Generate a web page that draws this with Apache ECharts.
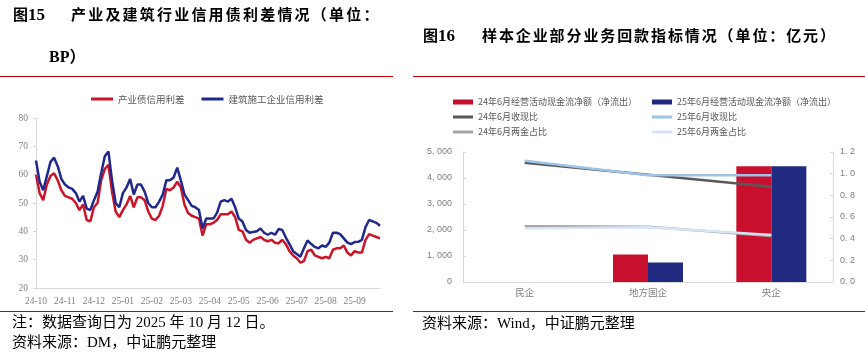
<!DOCTYPE html>
<html><head><meta charset="utf-8">
<script src="https://cdn.jsdelivr.net/npm/echarts@6/dist/echarts.min.js"></script>
<style>
html,body{margin:0;padding:0;background:#fff;width:865px;height:359px;overflow:hidden}
#c{position:absolute;left:0;top:0;width:865px;height:359px}
.t{position:absolute;white-space:nowrap;font-family:"Liberation Serif","Noto Sans CJK SC";color:#000;line-height:20px}
.b{font-weight:bold}
.cjk{font-family:"Noto Sans CJK SC"}
.hr{position:absolute;height:1px;background:#c00000}
</style></head><body>
<div id="c"></div>
<div class="t b" style="left:13px;top:4px;font-size:15px"><span class="cjk">图</span><span style="font-size:17px">15</span></div>
<div class="t b cjk" style="left:71px;top:4px;font-size:15px;letter-spacing:2.2px">产业及建筑行业信用债利差情况（单位：</div>
<div class="t b" style="left:49px;top:45px;font-size:16px">BP<span class="cjk">）</span></div>
<div class="t b" style="left:423px;top:25px;font-size:15px"><span class="cjk">图</span><span style="font-size:17px">16</span></div>
<div class="t b cjk" style="left:482px;top:25px;font-size:15px;letter-spacing:1.9px">样本企业部分业务回款指标情况（单位：亿元）</div>
<div class="hr" style="left:0;top:76px;width:393px"></div>
<div class="hr" style="left:413px;top:76px;width:452px"></div>
<div class="hr" style="left:0;top:311px;width:393px"></div>
<div class="hr" style="left:413px;top:311px;width:452px"></div>
<div class="t" style="left:12px;top:312px;font-size:15px">注：数据查询日为 2025 年 10 月 12 日。</div>
<div class="t" style="left:12px;top:332px;font-size:15px">资料来源：DM，中证鹏元整理</div>
<div class="t" style="left:422px;top:313px;font-size:15px">资料来源：Wind，中证鹏元整理</div>
<script>
// ---- Left chart data (信用利差, BP) ----
var tickLabels = ['24-10','24-11','24-12','25-01','25-02','25-03','25-04','25-05','25-06','25-07','25-08','25-09'];
var industrySpread = [60,53.5,51,56.5,59.5,60.5,58,54.5,52.5,52,51.5,50,47.5,49.5,44,43.5,48.5,50,58,62,
  63.5,54,47,45,47.5,49.5,52.5,48.5,52,52,51,47,44.5,44,45.5,49,55,54.5,55.5,57.5,
  55.5,49.5,46.5,45.5,45,44.5,38.5,42.5,42.5,43,44,46,46,46,47,45,40.5,40,37,36,
  37,37.5,38,37,36.5,37,36,35.8,37,35.5,33,31.5,30.5,29,29.5,33,33.5,31.5,31,30.5,
  31,30.5,33.5,34,34,35,32.5,31.5,33,32.5,32.5,37,39,38.5,38,37.5];
var constructionSpread = [65,57.5,54.5,59.5,64.5,66,63,58.5,56.5,55.5,55,53.5,50.5,52.5,48,47.5,51,54,60.5,66.5,
  68.2,58,50,48.5,53.5,55.5,58.5,53,56.5,56.5,54,50,48.5,48.5,50.5,53,58,58,59,62.5,
  58,53,51,49,48.5,47.5,41,44.5,44.5,44.5,46.5,50.5,51,50.5,51.5,48.5,44.5,43.5,40.5,39.5,
  39.8,40,41,39.5,38.8,39.5,38.8,40.8,40.5,37.8,35.5,33,32,31,34,36.8,35.5,34.5,34,35,
  34.5,36,39.5,39.5,39,37.5,36,35.5,36.2,36.3,37,41.5,44,43.5,43,42];
var categories = industrySpread.map(function(_, i){ return 'p' + i; });

// ---- Right chart data (亿元 / 比值) ----
var groups = ['民企','地方国企','央企'];
var cashFlow24 = [null, 1060, 4450];
var cashFlow25 = [null, 750, 4450];
var cashRatio24 = [1.10, 0.99, 0.88];
var cashRatio25 = [1.12, 0.985, 0.985];
var twoFundsShare24 = [0.515, 0.51, 0.425];
var twoFundsShare25 = [0.495, 0.505, 0.435];

var n1='24年6月经营活动现金流净额（净流出）', n2='25年6月经营活动现金流净额（净流出）',
    n3='24年6月收现比', n4='25年6月收现比', n5='24年6月两金占比', n6='25年6月两金占比';
var barIcon='path://M0,0L20,0L20,5L0,5Z', lineIcon='path://M0,0L20,0L20,3L0,3Z';
var legText={fontSize:9,color:'#595959',fontFamily:'Noto Sans CJK SC',lineHeight:12};

var chart = echarts.init(document.getElementById('c'), null, {renderer:'canvas'});
chart.setOption({
  animation:false,
  legend:[
    {left:91,top:93,padding:0,itemWidth:22,itemHeight:3,icon:'rect',itemGap:17,
     textStyle:{fontSize:9.5,color:'#595959',fontFamily:'Noto Sans CJK SC',lineHeight:12},
     data:['产业债信用利差','建筑施工企业信用利差']},
    {left:453,top:96,padding:0,orient:'vertical',itemGap:3,itemWidth:20,itemHeight:6,textStyle:legText,
     data:[{name:n1,icon:barIcon},{name:n3,icon:lineIcon},{name:n5,icon:lineIcon}]},
    {left:652,top:96,padding:0,orient:'vertical',itemGap:3,itemWidth:20,itemHeight:6,textStyle:legText,
     data:[{name:n2,icon:barIcon},{name:n4,icon:lineIcon},{name:n6,icon:lineIcon}]}
  ],
  grid:[
    {left:36,top:118,width:344,height:170},
    {left:463,top:152,width:370,height:130}
  ],
  xAxis:[
    {gridIndex:0,type:'category',data:categories,boundaryGap:false,
     axisLine:{lineStyle:{color:'#d9d9d9'}},axisTick:{show:false},
     axisLabel:{interval:7,formatter:function(v,i){return tickLabels[i/8]||'';},color:'#7f7f7f',fontFamily:'Liberation Serif',fontSize:9.5,margin:8}},
    {gridIndex:1,type:'category',data:groups,
     axisLine:{lineStyle:{color:'#d9d9d9'}},axisTick:{show:false},
     axisLabel:{color:'#7f7f7f',fontFamily:'Noto Sans CJK SC',fontSize:9.5,margin:6}}
  ],
  yAxis:[
    {gridIndex:0,type:'value',min:20,max:80,interval:10,
     axisLine:{show:true,lineStyle:{color:'#d9d9d9'}},axisTick:{show:true,length:3,lineStyle:{color:'#d9d9d9'}},
     splitLine:{show:false},axisLabel:{color:'#7f7f7f',fontFamily:'Liberation Serif',fontSize:9.5,margin:8}},
    {gridIndex:1,type:'value',min:0,max:5000,interval:1000,
     axisLine:{show:true,lineStyle:{color:'#d9d9d9'}},axisTick:{show:true,inside:true,length:3,lineStyle:{color:'#d9d9d9'}},
     splitLine:{show:false},
     axisLabel:{color:'#7f7f7f',fontFamily:'Liberation Sans',fontSize:9,margin:11,
       formatter:function(v){return v===0?'0':(v/1000)+', 000';}}},
    {gridIndex:1,type:'value',position:'right',min:0,max:1.2,interval:0.2,
     axisLine:{show:true,lineStyle:{color:'#d9d9d9'}},axisTick:{show:true,inside:true,length:3,lineStyle:{color:'#d9d9d9'}},
     splitLine:{show:false},
     axisLabel:{color:'#7f7f7f',fontFamily:'Liberation Sans',fontSize:9,margin:7,
       formatter:function(v){return v.toFixed(1).replace('.', '. ');}}}
  ],
  series:[
    {name:'产业债信用利差',type:'line',xAxisIndex:0,yAxisIndex:0,data:industrySpread,showSymbol:false,
     lineStyle:{width:2.5,color:'#cc1428'},itemStyle:{color:'#cc1428'}},
    {name:'建筑施工企业信用利差',type:'line',xAxisIndex:0,yAxisIndex:0,data:constructionSpread,showSymbol:false,
     lineStyle:{width:2.5,color:'#20288c'},itemStyle:{color:'#20288c'}},
    {name:n1,type:'bar',xAxisIndex:1,yAxisIndex:1,data:cashFlow24,barWidth:35,barGap:'0%',itemStyle:{color:'#c8102e'}},
    {name:n2,type:'bar',xAxisIndex:1,yAxisIndex:1,data:cashFlow25,barWidth:35,barGap:'0%',itemStyle:{color:'#1f2a80'}},
    {name:n3,type:'line',xAxisIndex:1,yAxisIndex:2,data:cashRatio24,showSymbol:false,
     lineStyle:{width:2.5,color:'#595959'},itemStyle:{color:'#595959'}},
    {name:n4,type:'line',xAxisIndex:1,yAxisIndex:2,data:cashRatio25,showSymbol:false,
     lineStyle:{width:2.5,color:'#9dc3e6'},itemStyle:{color:'#9dc3e6'}},
    {name:n5,type:'line',xAxisIndex:1,yAxisIndex:2,data:twoFundsShare24,showSymbol:false,
     lineStyle:{width:2.5,color:'#a6a6a6'},itemStyle:{color:'#a6a6a6'}},
    {name:n6,type:'line',xAxisIndex:1,yAxisIndex:2,data:twoFundsShare25,showSymbol:false,
     lineStyle:{width:2.5,color:'#d6e4f5'},itemStyle:{color:'#d6e4f5'}}
  ]
});
</script>
</body></html>
